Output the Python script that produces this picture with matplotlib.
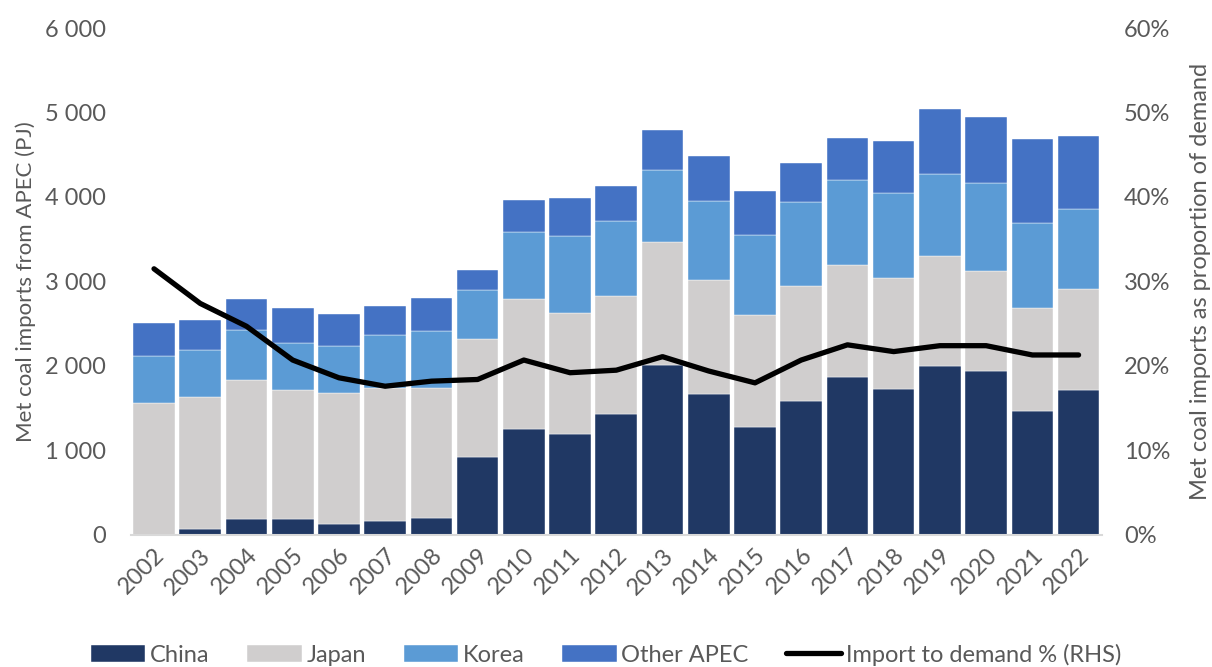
import numpy as np
import matplotlib.pyplot as plt
from matplotlib.ticker import FuncFormatter, MultipleLocator

plt.rcParams['font.family'] = ['Lato', 'DejaVu Sans']

years = [str(y) for y in range(2002, 2023)]
china = [0, 71, 186, 194, 126, 170, 201, 920, 1256, 1193, 1437, 2014, 1671,
         1280, 1588, 1868, 1730, 1994, 1939, 1461, 1710]
japan = [1560, 1556, 1642, 1516, 1552, 1568, 1533, 1398, 1540, 1434, 1395,
         1449, 1350, 1318, 1354, 1331, 1311, 1312, 1189, 1229, 1196]
korea = [553, 565, 601, 565, 554, 632, 683, 577, 794, 908, 888, 862, 936,
         957, 995, 1007, 1011, 971, 1039, 1007, 948]
other_apec = [395, 348, 363, 407, 383, 336, 387, 245, 371, 454, 411, 470,
              530, 521, 471, 498, 616, 762, 774, 995, 865]
import_share = [31.5, 27.4, 24.7, 20.7, 18.6, 17.6, 18.2, 18.4, 20.7, 19.2,
                19.5, 21.1, 19.4, 18.0, 20.7, 22.5, 21.7, 22.4, 22.4, 21.3, 21.3]

series = [('China', china, '#203864'),
          ('Japan', japan, '#D0CECE'),
          ('Korea', korea, '#5B9BD5'),
          ('Other APEC', other_apec, '#4472C4')]

text_col = '#595959'
fs = 17

fig = plt.figure(figsize=(12.12, 6.67), dpi=100)
ax = fig.add_axes([0.108, 0.198, 0.801, 0.76])

x = np.arange(len(years))
bottom = np.zeros(len(years))
handles = []
for name, vals, col in series:
    b = ax.bar(x, vals, width=0.9, bottom=bottom, color=col, label=name,
               edgecolor='white', linewidth=0.3)
    bottom += np.array(vals)
    handles.append(b)

ax.set_xlim(-0.5, len(years) - 0.5)
ax.set_ylim(0, 6000)
ax.yaxis.set_major_locator(MultipleLocator(1000))
ax.yaxis.set_major_formatter(FuncFormatter(lambda v, p: f'{int(v):,}'.replace(',', ' ')))
ax.set_xticks(x)
ax.set_xticklabels(years, rotation=45, ha='right', rotation_mode='anchor')
ax.tick_params(axis='both', length=0, labelsize=fs, colors=text_col)
ax.tick_params(axis='y', pad=18)
ax.tick_params(axis='x', pad=7)
for s in ['top', 'right', 'left']:
    ax.spines[s].set_visible(False)
ax.spines['bottom'].set_color('#D9D9D9')
ax.spines['bottom'].set_linewidth(1.5)
ax.set_ylabel('Met coal imports from APEC (PJ)', fontsize=16, color=text_col, labelpad=6)

ax2 = ax.twinx()
line, = ax2.plot(x, import_share, color='black', linewidth=3.8,
                 solid_capstyle='round', label='Import to demand % (RHS)')
ax2.set_ylim(0, 60)
ax2.yaxis.set_major_locator(MultipleLocator(10))
ax2.yaxis.set_major_formatter(FuncFormatter(lambda v, p: f'{int(v)}%'))
ax2.tick_params(axis='y', length=0, labelsize=fs, colors=text_col, pad=16)
for s in ax2.spines.values():
    s.set_visible(False)
ax2.set_ylabel('Met coal imports as proportion of demand', fontsize=fs,
               color=text_col, labelpad=14)

fig.legend(handles + [line], [s[0] for s in series] + ['Import to demand % (RHS)'],
           loc='lower center', bbox_to_anchor=(0.5, -0.03), ncol=5, frameon=False,
           fontsize=fs, labelcolor=text_col, handlelength=2.3, handleheight=0.7,
           handletextpad=0.2, columnspacing=1.6)

fig.savefig('out.png', dpi=100)
